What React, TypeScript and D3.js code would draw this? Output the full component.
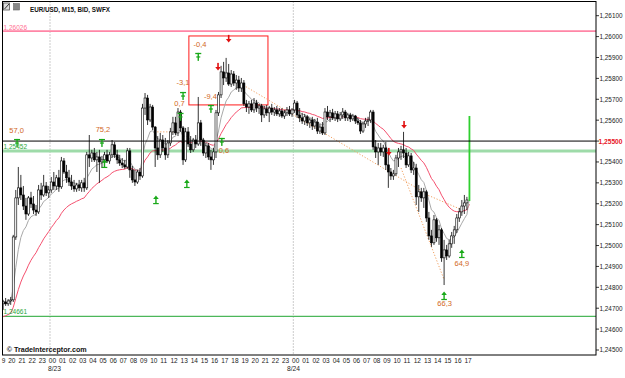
import React, { useEffect } from 'react';
import * as d3 from 'd3';

const W = 625;
const H = 378;

// time: hours measured from 8/23 00:00; first bar is 19:15 on 8/22, M15 bars
const FIRST_BAR_HOUR = -4.75;
const BAR_HOURS = 0.25;

// [open, high, low, close]
const candles: [number, number, number, number][] = [
  [1.24721, 1.2474, 1.24692, 1.2473],
  [1.2473, 1.24749, 1.24711, 1.24721],
  [1.24721, 1.24744, 1.24711, 1.24735],
  [1.24735, 1.24754, 1.24716, 1.2474],
  [1.2474, 1.25051, 1.2473, 1.25041],
  [1.25041, 1.25266, 1.25027, 1.25228],
  [1.25228, 1.25376, 1.25194, 1.25276],
  [1.25276, 1.25338, 1.25218, 1.25242],
  [1.25242, 1.25285, 1.2517, 1.25189],
  [1.25189, 1.25228, 1.25123, 1.25151],
  [1.25151, 1.25237, 1.25142, 1.25228],
  [1.25228, 1.25257, 1.2518, 1.25199],
  [1.25199, 1.25237, 1.25151, 1.2517],
  [1.2517, 1.25194, 1.25142, 1.25161],
  [1.25161, 1.2529, 1.25151, 1.25266],
  [1.25266, 1.253, 1.25218, 1.25242],
  [1.25242, 1.25338, 1.25233, 1.25285],
  [1.25285, 1.25304, 1.25237, 1.25252],
  [1.25252, 1.25285, 1.25228, 1.25266],
  [1.25266, 1.25328, 1.25252, 1.25304],
  [1.25304, 1.25352, 1.25266, 1.25285],
  [1.25285, 1.25338, 1.25266, 1.25324],
  [1.25324, 1.25362, 1.25257, 1.25281],
  [1.25281, 1.25424, 1.25271, 1.25405],
  [1.25405, 1.25419, 1.25343, 1.25352],
  [1.25352, 1.25386, 1.253, 1.25324],
  [1.25324, 1.25362, 1.25285, 1.25304],
  [1.25304, 1.25338, 1.25266, 1.25285],
  [1.25285, 1.25314, 1.25257, 1.25271],
  [1.25271, 1.253, 1.25257, 1.2529],
  [1.2529, 1.25314, 1.25261, 1.25276],
  [1.25276, 1.25314, 1.25257, 1.253],
  [1.253, 1.25324, 1.25257, 1.25276],
  [1.25276, 1.25448, 1.25266, 1.25434],
  [1.25434, 1.25529, 1.25376, 1.25419],
  [1.25419, 1.25458, 1.254, 1.25443],
  [1.25443, 1.25467, 1.254, 1.2541],
  [1.2541, 1.25448, 1.25352, 1.25424],
  [1.25424, 1.25458, 1.253, 1.254],
  [1.254, 1.25429, 1.25371, 1.2541],
  [1.2541, 1.25448, 1.25381, 1.25434],
  [1.25434, 1.25458, 1.25395, 1.25405],
  [1.25405, 1.25448, 1.25391, 1.25434],
  [1.25434, 1.25505, 1.25419, 1.25482],
  [1.25482, 1.25496, 1.25419, 1.25434],
  [1.25434, 1.25458, 1.25391, 1.2541],
  [1.2541, 1.25434, 1.25381, 1.25395],
  [1.25395, 1.25419, 1.25371, 1.25386],
  [1.25386, 1.2541, 1.25367, 1.25376],
  [1.25376, 1.25467, 1.25367, 1.25453],
  [1.25453, 1.25467, 1.25324, 1.25362],
  [1.25362, 1.25381, 1.253, 1.25314],
  [1.25314, 1.25362, 1.25285, 1.25304],
  [1.25304, 1.25362, 1.25295, 1.25352],
  [1.25352, 1.25371, 1.25314, 1.25333],
  [1.25333, 1.25678, 1.25324, 1.25658],
  [1.25658, 1.2573, 1.25625, 1.25706],
  [1.25706, 1.25721, 1.25577, 1.25601],
  [1.25601, 1.25678, 1.25591, 1.25663],
  [1.25663, 1.25673, 1.25553, 1.25567],
  [1.25567, 1.25572, 1.25376, 1.25467],
  [1.25467, 1.25524, 1.2541, 1.25434],
  [1.25434, 1.25539, 1.25419, 1.25505],
  [1.25505, 1.25529, 1.25448, 1.25467],
  [1.25467, 1.25515, 1.2541, 1.25434],
  [1.25434, 1.25505, 1.25419, 1.25491],
  [1.25491, 1.25563, 1.25477, 1.25544],
  [1.25544, 1.25616, 1.25529, 1.25587],
  [1.25587, 1.25616, 1.25529, 1.25539],
  [1.25539, 1.25658, 1.25524, 1.25639],
  [1.25639, 1.25649, 1.25544, 1.25563],
  [1.25563, 1.25572, 1.25386, 1.2541],
  [1.2541, 1.25563, 1.254, 1.25544],
  [1.25544, 1.25567, 1.25472, 1.25486],
  [1.25486, 1.25524, 1.25443, 1.25458],
  [1.25458, 1.25515, 1.25448, 1.25505],
  [1.25505, 1.25529, 1.25467, 1.25486],
  [1.25486, 1.25711, 1.25477, 1.25587],
  [1.25587, 1.25601, 1.25477, 1.25505],
  [1.25505, 1.25515, 1.25429, 1.25443],
  [1.25443, 1.25491, 1.25419, 1.25477],
  [1.25477, 1.25491, 1.2541, 1.25424],
  [1.25424, 1.25458, 1.25362, 1.2541],
  [1.2541, 1.25467, 1.25386, 1.25448],
  [1.25448, 1.25649, 1.25419, 1.25635],
  [1.25635, 1.25735, 1.2562, 1.25721],
  [1.25721, 1.2586, 1.25706, 1.25831],
  [1.25831, 1.25879, 1.25768, 1.25802],
  [1.25802, 1.25898, 1.25783, 1.25826],
  [1.25826, 1.25869, 1.25764, 1.25773],
  [1.25773, 1.2584, 1.25759, 1.25821],
  [1.25821, 1.25835, 1.25764, 1.25778],
  [1.25778, 1.25816, 1.25745, 1.25792],
  [1.25792, 1.25812, 1.25735, 1.25754],
  [1.25754, 1.25802, 1.25735, 1.25778],
  [1.25778, 1.25792, 1.25668, 1.25678],
  [1.25678, 1.25697, 1.25639, 1.25663],
  [1.25663, 1.25692, 1.2563, 1.25678],
  [1.25678, 1.25697, 1.25639, 1.25649],
  [1.25649, 1.25706, 1.25635, 1.25682],
  [1.25682, 1.25697, 1.25639, 1.25658],
  [1.25658, 1.25678, 1.2563, 1.25668],
  [1.25668, 1.25678, 1.25591, 1.25625],
  [1.25625, 1.25668, 1.25611, 1.25654],
  [1.25654, 1.25673, 1.2562, 1.25635],
  [1.25635, 1.25668, 1.25591, 1.25658],
  [1.25658, 1.25678, 1.25625, 1.25639],
  [1.25639, 1.25663, 1.2562, 1.25649],
  [1.25649, 1.25668, 1.2562, 1.2563],
  [1.2563, 1.25658, 1.25616, 1.25644],
  [1.25644, 1.25658, 1.25611, 1.2562],
  [1.2562, 1.25649, 1.25606, 1.25635],
  [1.25635, 1.25663, 1.2562, 1.25649],
  [1.25649, 1.25668, 1.2562, 1.2563],
  [1.2563, 1.25658, 1.25616, 1.25649],
  [1.25649, 1.25697, 1.25635, 1.25682],
  [1.25682, 1.25692, 1.25611, 1.25625],
  [1.25625, 1.25658, 1.25591, 1.25611],
  [1.25611, 1.25635, 1.25582, 1.25596],
  [1.25596, 1.2563, 1.25577, 1.25616],
  [1.25616, 1.25625, 1.25572, 1.25587],
  [1.25587, 1.25611, 1.25563, 1.25601],
  [1.25601, 1.25616, 1.25553, 1.25572],
  [1.25572, 1.25606, 1.25558, 1.25591],
  [1.25591, 1.25611, 1.25534, 1.25548],
  [1.25548, 1.25582, 1.25534, 1.25567],
  [1.25567, 1.25591, 1.25529, 1.25539],
  [1.25539, 1.25658, 1.25529, 1.25639],
  [1.25639, 1.25668, 1.25601, 1.25616],
  [1.25616, 1.25649, 1.25591, 1.25635],
  [1.25635, 1.25654, 1.25601, 1.25611],
  [1.25611, 1.25644, 1.25596, 1.2563],
  [1.2563, 1.25644, 1.25591, 1.25606],
  [1.25606, 1.25639, 1.25596, 1.25625],
  [1.25625, 1.25658, 1.25606, 1.25639],
  [1.25639, 1.25649, 1.25596, 1.25611],
  [1.25611, 1.25635, 1.25596, 1.25625],
  [1.25625, 1.25635, 1.25591, 1.25606],
  [1.25606, 1.2563, 1.25596, 1.2562],
  [1.2562, 1.25625, 1.25582, 1.25596],
  [1.25596, 1.25611, 1.25577, 1.25587],
  [1.25587, 1.25601, 1.25534, 1.25548],
  [1.25548, 1.25591, 1.25539, 1.25582],
  [1.25582, 1.25611, 1.25563, 1.25596],
  [1.25596, 1.25616, 1.25572, 1.25601],
  [1.25601, 1.25649, 1.25587, 1.25639],
  [1.25639, 1.25649, 1.25458, 1.25472],
  [1.25472, 1.25505, 1.25419, 1.25448],
  [1.25448, 1.25491, 1.25386, 1.25467],
  [1.25467, 1.25491, 1.25429, 1.25448],
  [1.25448, 1.25482, 1.25424, 1.25467],
  [1.25467, 1.25496, 1.25362, 1.25386],
  [1.25386, 1.25458, 1.25276, 1.25352],
  [1.25352, 1.25371, 1.25314, 1.25333],
  [1.25333, 1.25362, 1.25314, 1.25343],
  [1.25343, 1.25434, 1.25333, 1.25419],
  [1.25419, 1.25467, 1.25376, 1.25448],
  [1.25448, 1.25477, 1.2541, 1.25458],
  [1.25458, 1.25544, 1.25419, 1.25443],
  [1.25443, 1.25467, 1.25371, 1.25386],
  [1.25386, 1.25448, 1.25376, 1.25429],
  [1.25429, 1.25443, 1.25347, 1.25362],
  [1.25362, 1.254, 1.25338, 1.25371],
  [1.25371, 1.25391, 1.25194, 1.25233],
  [1.25233, 1.2529, 1.25161, 1.25257],
  [1.25257, 1.25276, 1.25209, 1.25228],
  [1.25228, 1.25276, 1.2518, 1.25257],
  [1.25257, 1.25266, 1.25113, 1.25132],
  [1.25132, 1.25161, 1.25027, 1.25046],
  [1.25046, 1.25075, 1.24994, 1.25013],
  [1.25013, 1.25146, 1.25003, 1.25123],
  [1.25123, 1.25132, 1.25018, 1.25037],
  [1.25037, 1.25099, 1.25003, 1.25075],
  [1.25075, 1.25084, 1.24922, 1.24941],
  [1.24941, 1.25027, 1.24811, 1.24979],
  [1.24979, 1.25003, 1.24931, 1.2495],
  [1.2495, 1.25027, 1.24941, 1.25008],
  [1.25008, 1.25065, 1.24989, 1.25046],
  [1.25046, 1.25094, 1.25008, 1.25075],
  [1.25075, 1.25151, 1.2506, 1.25132],
  [1.25132, 1.2518, 1.25113, 1.25161],
  [1.25161, 1.25218, 1.25142, 1.25189],
  [1.25189, 1.25242, 1.25151, 1.25204],
  [1.25204, 1.25233, 1.2517, 1.25218],
  [1.25218, 1.2562, 1.25213, 1.255],
];

// indicator settings and seeds
const FAST_EMA = 8;
const SLOW_EMA = 24;
const SLOW_SEED = 1.24653;

const priceTicks = [1.261, 1.26, 1.259, 1.258, 1.257, 1.256, 1.254, 1.253, 1.252, 1.251, 1.25, 1.249, 1.248, 1.247, 1.246, 1.245];
const hourTicks = d3.range(-4, 42);
const FIRST_HOUR_LABEL = '9'; // partially visible "19" at the left edge
const dayLabels: [number, string][] = [[0, '8/23'], [24, '8/24']];
const daySeparators = [0, 24];

const CURRENT_PRICE = 1.255;
const PINK_LEVEL = 1.26026;
const GREEN_LEVEL = 1.25452;
const LOW_LEVEL = 1.24661;

// signal markers: [bar index, price]
const exitMarks: [number, number][] = [[5.5, 1.25491], [39, 1.25491], [70, 1.25616], [71, 1.25716], [77, 1.25903], [82, 1.25654], [86.3, 1.25496]];
const buyMarks: [number, number][] = [[40, 1.25391], [60.3, 1.25218], [72.5, 1.25295], [174, 1.24759], [181, 1.2496]];
const sellMarks: [number, number][] = [[89, 1.25989], [84.8, 1.25855], [152.2, 1.25448], [158.2, 1.25577]];
const signalLabels: [string, number, number][] = [
  ['57,0', 5.3, 1.25553], ['75,2', 39.4, 1.25558], ['-0,4', 77.7, 1.25965], ['-3,1', 71, 1.25781],
  ['0,7', 69.6, 1.25682], ['-9,4', 81.8, 1.25716], ['0,6', 87.1, 1.25455], ['64,9', 181, 1.24914], ['66,3', 174.2, 1.24725],
];
// dotted trend lines: pairs of [bar index, price]
const trendLines: [number, number][][] = [
  [[90.7, 1.25797], [164.5, 1.25266]],
  [[164.5, 1.25257], [182, 1.25166]],
  [[157, 1.25371], [173.9, 1.2484]],
  [[60.8, 1.25544], [68.6, 1.25544]],
];
// zone box: [start bar, end bar, top price, bottom price]
const zoneBox: [number, number, number, number] = [73.3, 104.5, 1.26003, 1.25673];

const PL = 2.5, PT = 1.5, PR = 596, PB = 355;

const fmt = (v: number) => v.toFixed(5).replace('.', ',');

function ema(values: number[], period: number, seed: number) {
  const a = 2 / (period + 1);
  let e = seed;
  return values.map((v) => (e = e + a * (v - e)));
}

export default function App() {
  useEffect(() => {
    document.body.style.margin = '0';
  }, []);

  const x = d3.scaleLinear().domain([0, 24]).range([50, 293.3]);
  const y = d3.scaleLinear().domain([1.245, 1.261]).range([350, 15.7]);
  const barX = (i: number) => x(FIRST_BAR_HOUR + i * BAR_HOURS + BAR_HOURS / 2);

  const closes = candles.map((c) => c[3]);
  const fast = ema(closes, FAST_EMA, closes[0]);
  const slow = ema(closes, SLOW_EMA, SLOW_SEED);
  const line = d3.line<number>().x((_, i) => barX(i)).y((v) => y(v));

  const green = '#19a919';
  const orange = '#d2691e';

  const exitGlyph = (cx: number, cy: number, k: number) => (
    <g key={'e' + k} fill={green}>
      <rect x={cx - 3} y={cy - 4} width={6} height={1.3} />
      <rect x={cx - 0.7} y={cy - 4} width={1.4} height={8} />
      <rect x={cx - 2} y={cy - 0.5} width={4} height={1.2} />
    </g>
  );
  const buyGlyph = (cx: number, cy: number, k: number) => (
    <g key={'b' + k} fill={green}>
      <path d={`M${cx - 2.8},${cy - 1} L${cx},${cy - 4.5} L${cx + 2.8},${cy - 1} Z`} />
      <rect x={cx - 0.7} y={cy - 1.5} width={1.4} height={5} />
      <rect x={cx - 2.8} y={cy + 3} width={5.6} height={1.2} />
    </g>
  );
  const sellGlyph = (cx: number, cy: number, k: number) => (
    <g key={'s' + k} fill="#e01010">
      <rect x={cx - 0.8} y={cy - 4} width={1.6} height={4.5} />
      <path d={`M${cx - 2.8},${cy} L${cx},${cy + 3.5} L${cx + 2.8},${cy} Z`} />
    </g>
  );

  return (
    <svg width={W} height={H} style={{ position: 'absolute', left: 0, top: 0, display: 'block', background: '#fff' }}
      fontFamily="'Liberation Sans', Arial, sans-serif">
      <defs>
        <clipPath id="plotClip"><rect x={PL} y={PT} width={PR - PL} height={PB - PT} /></clipPath>
      </defs>
      <rect x={0} y={0} width={W} height={H} fill="#fff" />

      <g clipPath="url(#plotClip)">
        {daySeparators.map((h) => (
          <line key={h} x1={x(h)} x2={x(h)} y1={PT} y2={PB} stroke="#999" strokeWidth={1} strokeDasharray="1,2" />
        ))}
        <line x1={PL} x2={PR} y1={y(PINK_LEVEL)} y2={y(PINK_LEVEL)} stroke="#ff86a6" strokeWidth={1.6} />
        <line x1={PL} x2={PR} y1={y(GREEN_LEVEL)} y2={y(GREEN_LEVEL)} stroke="#9edba9" strokeWidth={3} />
        <line x1={PL} x2={PR} y1={y(LOW_LEVEL)} y2={y(LOW_LEVEL)} stroke="#4cb75a" strokeWidth={1.2} />

        <rect x={barX(zoneBox[0])} y={y(zoneBox[2])} width={barX(zoneBox[1]) - barX(zoneBox[0])}
          height={y(zoneBox[3]) - y(zoneBox[2])} fill="none" stroke="#ff1a1a" strokeWidth={1} />

        {trendLines.map((l, k) => (
          <line key={k} x1={barX(l[0][0])} y1={y(l[0][1])} x2={barX(l[1][0])} y2={y(l[1][1])}
            stroke="#f0a060" strokeWidth={1} strokeDasharray="1.2,1.8" />
        ))}

        <path d={line(slow) || ''} fill="none" stroke="#f4506e" strokeWidth={1} />
        <path d={line(fast) || ''} fill="none" stroke="#a8a8a8" strokeWidth={1} />

        {candles.map((c, i) => {
          const [o, h, l, cl] = c;
          const cx = barX(i);
          const last = i === candles.length - 1;
          if (last) {
            return <rect key={i} x={cx - 0.9} y={y(h)} width={1.8} height={y(l) - y(h)} fill="#2fcf2f" />;
          }
          const top = y(Math.max(o, cl));
          const bot = y(Math.min(o, cl));
          const bull = cl >= o;
          return (
            <g key={i}>
              <line x1={cx} x2={cx} y1={y(h)} y2={y(l)} stroke="#000" strokeWidth={0.8} />
              <rect x={cx - 1} y={top} width={2} height={Math.max(bot - top, 0.8)}
                fill={bull ? '#fff' : '#000'} stroke="#000" strokeWidth={0.6} />
            </g>
          );
        })}

        <line x1={PL} x2={PR} y1={y(CURRENT_PRICE)} y2={y(CURRENT_PRICE)} stroke="#000" strokeWidth={1} />

        {exitMarks.map((m, k) => exitGlyph(barX(m[0]), y(m[1]), k))}
        {buyMarks.map((m, k) => buyGlyph(barX(m[0]), y(m[1]), k))}
        {sellMarks.map((m, k) => sellGlyph(barX(m[0]), y(m[1]), k))}

        {signalLabels.map(([t, i, p]) => (
          <text key={t} x={barX(i)} y={y(p) + 2.7} fontSize={7.5} fill={orange} textAnchor="middle">{t}</text>
        ))}

        <text x={3.5} y={y(PINK_LEVEL) - 1} fontSize={6.5} fill="#ff6f93">{fmt(PINK_LEVEL)}</text>
        <text x={3.5} y={y(GREEN_LEVEL) - 2.3} fontSize={6.5} fill="#27a83c">{fmt(GREEN_LEVEL)}</text>
        <text x={3.5} y={y(LOW_LEVEL) - 2.3} fontSize={6.5} fill="#27a83c">{fmt(LOW_LEVEL)}</text>
      </g>

      <rect x={PL} y={PT} width={PR - PL} height={PB - PT} fill="none" stroke="#000" strokeWidth={1} />

      {/* right price axis */}
      {priceTicks.map((p) => (
        <g key={p}>
          <line x1={PR} x2={PR + 3} y1={y(p)} y2={y(p)} stroke="#000" strokeWidth={0.8} />
          <text x={599.5} y={y(p) + 2.4} fontSize={6.8} fill="#222" textLength={23} lengthAdjust="spacingAndGlyphs">{fmt(p)}</text>
        </g>
      ))}
      <line x1={PR} x2={PR + 3} y1={y(CURRENT_PRICE)} y2={y(CURRENT_PRICE)} stroke="#000" strokeWidth={0.8} />
      <text x={598.5} y={y(CURRENT_PRICE) + 2.5} fontSize={7} fontWeight="bold" fill="#e8141e" textLength={24} lengthAdjust="spacingAndGlyphs">{fmt(CURRENT_PRICE)}</text>

      {/* bottom time axis */}
      <text x={1.8} y={362.5} fontSize={6.5} fill="#222">{FIRST_HOUR_LABEL}</text>
      {hourTicks.map((h) => (
        <text key={h} x={x(h) - 1.2} y={362.5} fontSize={6.5} fill="#222">
          {String(((h % 24) + 24) % 24).padStart(2, '0')}
        </text>
      ))}
      {dayLabels.map(([h, t]) => (
        <text key={t} x={x(h) - (h === 0 ? 2 : 6.3)} y={370.5} fontSize={6.7} fill="#222">{t}</text>
      ))}

      {/* header */}
      <rect x={3.5} y={3} width={6} height={7} fill="#ddd" stroke="#555" strokeWidth={0.8} />
      <line x1={4.5} y1={9} x2={9} y2={4} stroke="#333" strokeWidth={1} />
      <rect x={13.5} y={3.5} width={6} height={6.5} fill="#888" stroke="#666" strokeWidth={0.6} />
      <text x={30} y={11.5} fontSize={7.4} fontWeight="bold" fill="#111" textLength={80} lengthAdjust="spacingAndGlyphs">EUR/USD, M15, BID, SWFX</text>
      <text x={6.7} y={352} fontSize={7} fontWeight="bold" fill="#111" textLength={80} lengthAdjust="spacingAndGlyphs">© TradeInterceptor.com</text>
    </svg>
  );
}
